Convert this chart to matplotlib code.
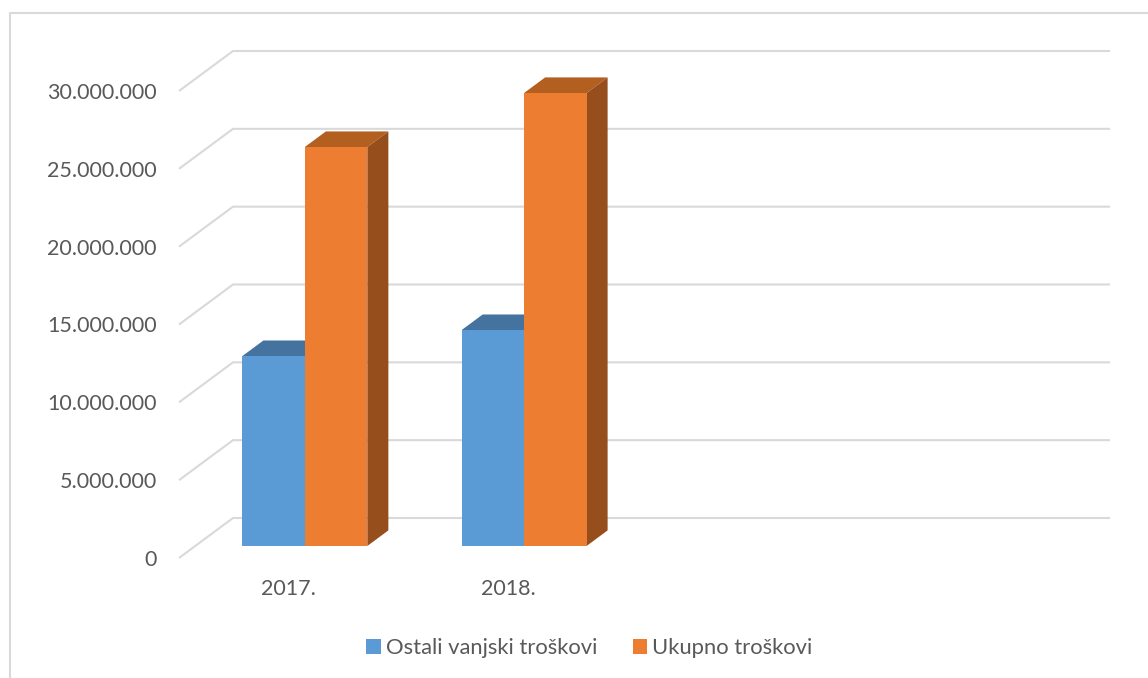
import matplotlib
matplotlib.use('Agg')
from matplotlib import pyplot as plt
from matplotlib.lines import Line2D
from matplotlib.patches import Patch, Polygon

# Chart data
categories = ['2017.', '2018.', '', '']
ostali = [12200000, 13870000]
ukupno = [25630000, 29100000]
yTicks = [0, 5000000, 10000000, 15000000, 20000000, 25000000, 30000000]
yLabels = ['0', '5.000.000', '10.000.000', '15.000.000', '20.000.000', '25.000.000', '30.000.000']
seriesNames = ['Ostali vanjski troškovi', 'Ukupno troškovi']

# Colours: front, top, side
blue = ['#5B9BD5', '#44739F', '#3A6590']
orange = ['#ED7D31', '#B35F20', '#964F1C']
gridColor = '#D9D9D9'
textColor = '#595959'

W, H = 1148, 678
plt.rcParams['font.family'] = ['Lato', 'DejaVu Sans']
fig = plt.figure(figsize=(W / 100, H / 100), dpi=100)

# Axes is the front edge of the floor, the 3D depth is sheared on top of it.
left, right, bottom, top = 179, 1056, 558, 91
ax = fig.add_axes([left / W, 1 - bottom / H, (right - left) / W, (bottom - top) / H])
ax.set_xlim(-0.5, 3.5)
ax.set_ylim(0, 30000000)
ax.patch.set_visible(False)
for s in ax.spines.values():
	s.set_visible(False)

depthX = 54 * 4 / (right - left)
depthY = 40 * 30000000 / (bottom - top)

def project(x, y, depth):
	return (x + depth * depthX, y + depth * depthY)

def drawBar(x0, x1, value, colors, order):
	d0, d1 = 0.30, 0.69
	front = [project(x0, 0, d0), project(x1, 0, d0), project(x1, value, d0), project(x0, value, d0)]
	topFace = [project(x0, value, d0), project(x1, value, d0), project(x1, value, d1), project(x0, value, d1)]
	side = [project(x1, 0, d0), project(x1, 0, d1), project(x1, value, d1), project(x1, value, d0)]
	for pts, color in [(topFace, colors[1]), (side, colors[2]), (front, colors[0])]:
		ax.add_patch(Polygon(pts, closed=True, facecolor=color, edgecolor='none', zorder=order, clip_on=False))

# Gridlines: up the side wall, then along the back wall
for t in yTicks:
	xs = [-0.5, -0.5 + depthX, 3.5 + depthX]
	ys = [t, t + depthY, t + depthY]
	ax.plot(xs, ys, color=gridColor, lw=1.5, clip_on=False, zorder=1, solid_capstyle='butt')

barWidth = 0.285
for i in range(len(ostali)):
	drawBar(i - barWidth, i, ostali[i], blue, 2)
	drawBar(i, i + barWidth, ukupno[i], orange, 3)

ax.set_yticks(yTicks)
ax.set_yticklabels(yLabels)
ax.set_xticks(range(len(categories)))
ax.set_xticklabels(categories)
ax.tick_params(axis='y', length=0, pad=16, labelsize=15.5, labelcolor=textColor)
ax.tick_params(axis='x', length=0, pad=15, labelsize=15.5, labelcolor=textColor)

handles = [Patch(facecolor=blue[0]), Patch(facecolor=orange[0])]
fig.legend(handles, seriesNames, loc='center', bbox_to_anchor=(589.5 / W, 1 - 648 / H), ncol=2, frameon=False,
	fontsize=15.8, labelcolor=textColor, handlelength=0.65, handleheight=0.65, handletextpad=0.25, columnspacing=1.6)

# Chart frame, only left and top are in the crop
fig.add_artist(Line2D([9.5 / W, 9.5 / W, 1], [0, 1 - 13 / H, 1 - 13 / H], color=gridColor, lw=1.5))

plt.savefig('out.png', dpi=100)
